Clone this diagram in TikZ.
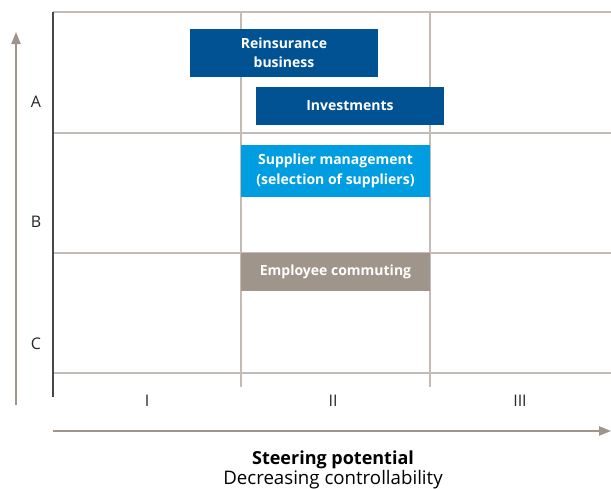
\documentclass[tikz,border=0pt]{standalone}
\usepackage{fontspec}
\setmainfont{Open Sans}
\usetikzlibrary{arrows.meta}
\definecolor{azulescuro}{RGB}{0,82,147}
\definecolor{azulclaro}{RGB}{0,158,224}
\definecolor{taupe}{RGB}{160,149,138}
\definecolor{grade}{RGB}{196,188,180}
\definecolor{eixo}{RGB}{70,70,70}
\tikzset{
  caixa/.style={rectangle, inner sep=0pt, text=white, align=center,
    font=\fontsize{10.5}{14.5}\selectfont\bfseries, minimum width=141.5pt},
  rotulo/.style={font=\fontsize{12}{13}\selectfont, text=black!85}
}
\begin{document}
\begin{tikzpicture}[x=0.75pt,y=-0.75pt] %pixel units, y downwards
  \useasboundingbox (0,0) rectangle (611,489);
    %Grade
  \foreach \y in {12,133,253,373}
    \draw[grade, line width=0.9pt] (53,\y) -- (611,\y);
  \foreach \x in {241,430}
    \draw[grade, line width=0.9pt] (\x,12) -- (\x,387);
  \draw[eixo, line width=1.3pt] (53,12) -- (53,397); %Eixo vertical
    %Setas
  \coordinate (vbase) at (16,405);
  \coordinate (vtopo) at (16,32);
  \coordinate (hbase) at (53,431);
  \coordinate (hfim) at (611,431);
  \draw[taupe, line width=0.9pt, -{Triangle[length=9pt,width=7pt]}] (vbase) -- (vtopo);
  \draw[taupe, line width=0.9pt, -{Triangle[length=9pt,width=7pt]}] (hbase) -- (hfim);
    %Caixas
  \node[caixa, fill=azulescuro, minimum height=36pt] (resseguro) at (284,53) {Reinsurance\\business};
  \node[caixa, fill=azulescuro, minimum height=28.5pt] (investimentos) at (350,106) {Investments};
  \node[caixa, fill=azulclaro, minimum height=39pt] (fornecedores) at (335.5,171) {Supplier management\\(selection of suppliers)};
  \node[caixa, fill=taupe, minimum height=28.5pt] (deslocamento) at (335.5,272) {Employee commuting};
    %Rotulos
  \node[rotulo] (A) at (36,102) {A};
  \node[rotulo] (B) at (36,222) {B};
  \node[rotulo] (C) at (36,344) {C};
  \node[rotulo] (I) at (147,401) {I};
  \node[rotulo] (II) at (333,401) {II};
  \node[rotulo] (III) at (520,401) {III};
  \node[font=\fontsize{13.5}{15}\selectfont\bfseries] (potencial) at (333,460) {Steering potential};
  \node[font=\fontsize{14}{15}\selectfont] (controle) at (333,480) {Decreasing controllability};
\end{tikzpicture}
\end{document}
